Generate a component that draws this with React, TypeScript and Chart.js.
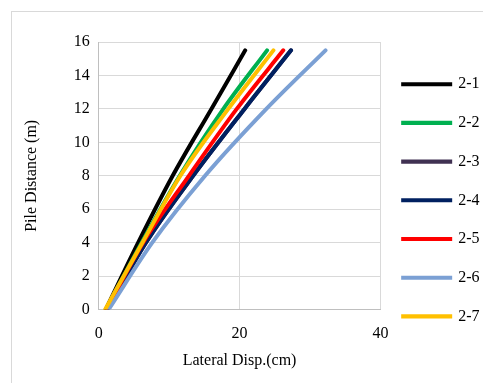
import React, { useEffect, useRef } from "react";
import { Chart, registerables } from "chart.js";

Chart.register(...registerables);

// Depth along the pile (m) at which the displacement of each test was recorded
const DEPTHS = [0, 4, 8, 12, 15.5];

// Lateral displacement (cm) for each test, one value per depth above
const SERIES_NAMES = ["2-1", "2-2", "2-3", "2-4", "2-5", "2-6", "2-7"];
const DISP_2_1 = [1.0, 5.6, 10.5, 16.0, 20.8];
const DISP_2_2 = [1.0, 6.1, 11.5, 17.7, 23.9];
const DISP_2_3 = [1.2, 6.7, 13.4, 20.7, 27.3];
const DISP_2_4 = [1.2, 6.7, 13.4, 20.7, 27.3];
const DISP_2_5 = [1.1, 6.3, 12.8, 19.6, 26.2];
const DISP_2_6 = [1.4, 7.6, 15.1, 23.8, 32.2];
const DISP_2_7 = [0.9, 6.2, 11.6, 18.4, 24.8];

const SERIES_VALUES = [DISP_2_1, DISP_2_2, DISP_2_3, DISP_2_4, DISP_2_5, DISP_2_6, DISP_2_7];
const SERIES_COLORS = ["#000000", "#00b050", "#403152", "#002060", "#ff0000", "#7ba0d4", "#ffc000"];

const X_TICKS = [0, 20, 40];
const Y_TICKS = [0, 2, 4, 6, 8, 10, 12, 14, 16];

const FONT = "'Liberation Serif', 'Times New Roman', serif";

export default function App() {
  const canvasRef = useRef<HTMLCanvasElement | null>(null);

  useEffect(() => {
    const canvas = canvasRef.current;
    if (!canvas) return;

    const datasets = SERIES_NAMES.map((name, i) => ({
      label: name,
      data: SERIES_VALUES[i].map((x, j) => ({ x, y: DEPTHS[j] })),
      borderColor: SERIES_COLORS[i],
      backgroundColor: SERIES_COLORS[i],
      borderWidth: 4,
      pointRadius: 0,
      showLine: true,
      // later series are painted over earlier ones
      order: -i,
      cubicInterpolationMode: "monotone" as const,
      borderCapStyle: "round" as const,
    }));

    const chart = new Chart(canvas, {
      type: "scatter",
      data: { datasets },
      options: {
        animation: false,
        responsive: false,
        layout: { padding: { left: 18, top: 42, right: -6.5, bottom: 13 } },
        plugins: {
          tooltip: { enabled: false },
          legend: {
            position: "right",
            align: "start",
            // empty title used as a small spacer above the first entry
            title: { display: true, text: "", font: { size: 5 }, padding: { top: 5.5, bottom: 0 } },
            labels: {
              boxWidth: 47,
              boxHeight: 0.1,
              padding: 22.7,
              color: "#000",
              font: { family: FONT, size: 16 },
              sort: (a, b) => (a.datasetIndex ?? 0) - (b.datasetIndex ?? 0),
            },
          },
        },
        scales: {
          x: {
            type: "linear",
            min: 0,
            max: 40,
            afterBuildTicks: (axis) => {
              axis.ticks = X_TICKS.map((v) => ({ value: v }));
            },
            grid: { color: "#d9d9d9", lineWidth: 1, drawTicks: false },
            border: { color: "#bfbfbf", width: 1 },
            ticks: { color: "#000", padding: 15, font: { family: FONT, size: 16 } },
            title: {
              display: true,
              text: "Lateral Disp.(cm)",
              color: "#000",
              padding: { top: -8, bottom: 0 },
              font: { family: FONT, size: 16 },
            },
          },
          y: {
            type: "linear",
            min: 0,
            max: 16,
            afterBuildTicks: (axis) => {
              axis.ticks = Y_TICKS.map((v) => ({ value: v }));
            },
            grid: { color: "#d9d9d9", lineWidth: 1, drawTicks: false },
            border: { color: "#bfbfbf", width: 1 },
            ticks: { color: "#000", padding: 9, font: { family: FONT, size: 16 } },
            title: {
              display: true,
              text: "Pile Distance (m)",
              color: "#000",
              padding: { top: 4, bottom: 23.5 },
              font: { family: FONT, size: 16 },
            },
          },
        },
      },
    });

    return () => chart.destroy();
  }, []);

  return (
    <div style={{ position: "fixed", left: 0, top: 0, width: 483, height: 383, background: "#fff", overflow: "hidden" }}>
      <div
        style={{
          position: "absolute",
          left: 11,
          top: 11,
          width: 520,
          height: 420,
          border: "1px solid #d9d9d9",
          boxSizing: "border-box",
        }}
      />
      <canvas ref={canvasRef} width={483} height={383} style={{ position: "absolute", left: 0, top: 0 }} />
    </div>
  );
}
